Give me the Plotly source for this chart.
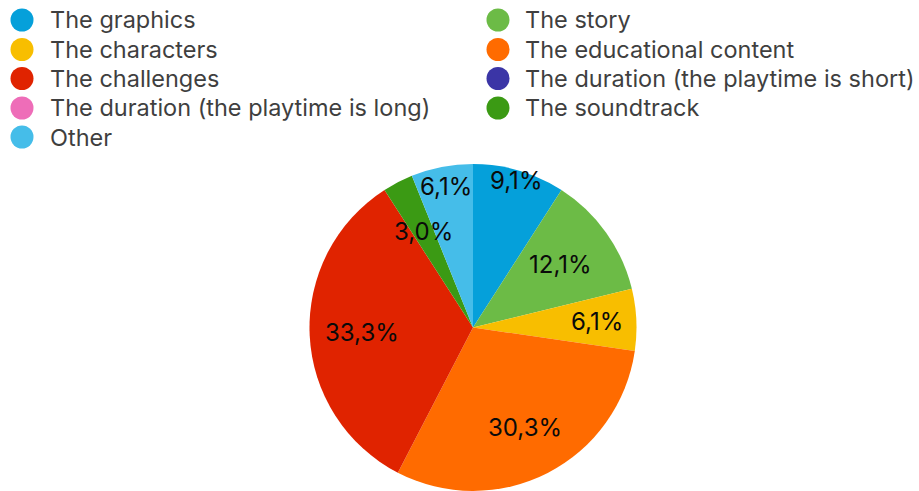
import math
import plotly.graph_objects as go

# Survey answers, in slice order (clockwise from 12 o'clock)
categories = [
    "The graphics",
    "The story",
    "The characters",
    "The educational content",
    "The duration (the playtime is short)",
    "The duration (the playtime is long)",
    "The challenges",
    "The soundtrack",
    "Other",
]
shares = [9.1, 12.1, 6.1, 30.3, 0.0, 0.0, 33.3, 3.0, 6.1]
colors = [
    "#05a0da", "#6cbb46", "#f8be00", "#ff6b00",
    "#3b35a6", "#ee6db8", "#e02300", "#3b9a14", "#45bde9",
]
# Legend reading order: two columns, filled column by column
legend_col1 = ["The graphics", "The characters", "The challenges",
               "The duration (the playtime is long)", "Other"]
legend_col2 = ["The story", "The educational content",
               "The duration (the playtime is short)", "The soundtrack"]

W, H = 919, 491
# pie placement in pixels
cx, cy, R = 473, 327.5, 163.5
label_radius = [0.94, 0.66, 0.76, 0.69, 0.7, 0.7, 0.68, 0.66, 0.88]

fig = go.Figure()
fig.add_trace(go.Pie(
    labels=categories,
    values=shares,
    sort=False,
    direction="clockwise",
    rotation=0,
    marker=dict(colors=colors, line=dict(width=0)),
    textinfo="none",
    hoverinfo="label+percent",
    showlegend=False,
    domain=dict(x=[(cx - R) / W, (cx + R) / W], y=[1 - (cy + R) / H, 1 - (cy - R) / H]),
))

annotations = []
shapes = []
FONT = "Inter, Liberation Sans, Arial, sans-serif"

# value labels inside the slices
total = sum(shares)
acc = 0.0
for v, rf in zip(shares, label_radius):
    if v > 0:
        mid = (acc + v / 2) / total * 2 * math.pi
        px = cx + rf * R * math.sin(mid)
        py = cy - rf * R * math.cos(mid)
        annotations.append(dict(
            x=px / W, y=1 - py / H, xref="paper", yref="paper",
            text=f"{v:.1f}".replace(".", ",") + "%", showarrow=False,
            font=dict(family=FONT, size=24, color="#0a0a0a"),
            xanchor="center", yanchor="middle",
        ))
    acc += v

# legend with round markers
row_y = [20, 49.5, 78.5, 108, 137]
for col, (mx, tx) in zip([legend_col1, legend_col2], [(22, 47.5), (498, 523)]):
    for i, name in enumerate(col):
        c = colors[categories.index(name)]
        y = row_y[i]
        shapes.append(dict(
            type="circle", xref="paper", yref="paper",
            x0=(mx - 11.5) / W, x1=(mx + 11.5) / W,
            y0=1 - (y + 11.5) / H, y1=1 - (y - 11.5) / H,
            fillcolor=c, line=dict(width=0),
        ))
        annotations.append(dict(
            x=tx / W, y=1 - y / H, xref="paper", yref="paper",
            text=name, showarrow=False,
            font=dict(family=FONT, size=23.5, color="#3f3f3f"),
            xanchor="left", yanchor="middle",
        ))

fig.update_layout(
    width=W, height=H,
    margin=dict(l=0, r=0, t=0, b=0),
    paper_bgcolor="white",
    plot_bgcolor="white",
    annotations=annotations,
    shapes=shapes,
)

fig.write_html("out.html")
